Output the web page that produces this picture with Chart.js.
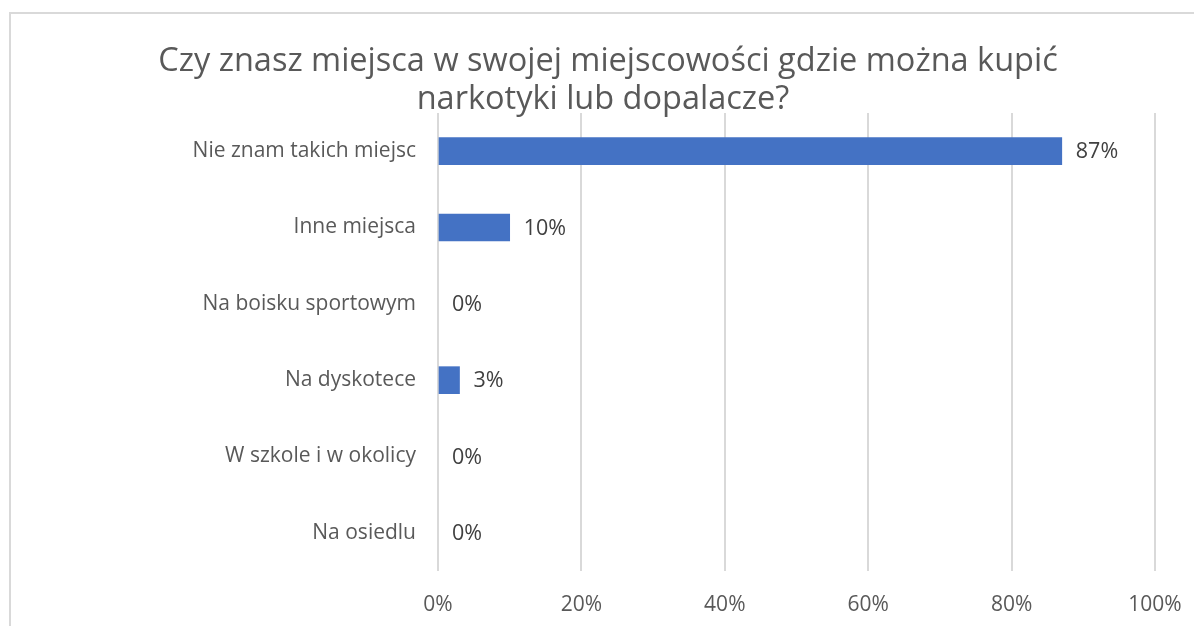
<!DOCTYPE html>
<html>
<head>
<meta charset="utf-8">
<script src="https://cdn.jsdelivr.net/npm/chart.js@4/dist/chart.umd.min.js"></script>
<style>
  html, body { margin: 0; padding: 0; background: #fff; }
  #wrap { position: relative; width: 1194px; height: 626px; overflow: hidden; }
  #frame { position: absolute; left: 9px; top: 12px; width: 1300px; height: 700px;
           border-left: 2px solid #d9d9d9; border-top: 2px solid #d9d9d9; pointer-events: none; }
  canvas { position: absolute; left: 0; top: 0; }
</style>
</head>
<body>
<div id="wrap">
  <canvas id="chart" width="1194" height="626"></canvas>
  <div id="frame"></div>
</div>
<script>
// Survey answers and their shares (percent)
const titleLines = ['Czy znasz miejsca w swojej miejscowości gdzie można kupić', 'narkotyki lub dopalacze?'];
const categories = ['Nie znam takich miejsc', 'Inne miejsca', 'Na boisku sportowym', 'Na dyskotece', 'W szkole i w okolicy', 'Na osiedlu'];
const values = [87, 10, 0, 3, 0, 0];
const xTicks = [0, 20, 40, 60, 80, 100];

const FONT = '"Open Sans", "Noto Sans", sans-serif';

// two-line title drawn on top of the plot
const titlePlugin = {
    id: 'titleLines',
    afterDraw(chart) {
        const ctx = chart.ctx;
        ctx.save();
        ctx.font = '32.5px ' + FONT;
        ctx.fillStyle = '#595959';
        ctx.textAlign = 'center';
        ctx.textBaseline = 'alphabetic';
        ctx.fillText(titleLines[0], 608, 71);
        ctx.fillText(titleLines[1], 603, 109);
        ctx.restore();
    }
};

// value labels after each bar end
const valueLabels = {
    id: 'valueLabels',
    afterDatasetsDraw(chart) {
        const ctx = chart.ctx;
        const meta = chart.getDatasetMeta(0);
        ctx.save();
        ctx.font = '21.5px ' + FONT;
        ctx.fillStyle = '#404040';
        ctx.textAlign = 'left';
        ctx.textBaseline = 'middle';
        meta.data.forEach((bar, i) => {
            ctx.fillText(values[i] + '%', bar.x + 14, bar.y + 1);
        });
        ctx.restore();
    }
};

new Chart(document.getElementById('chart').getContext('2d'), {
    type: 'bar',
    data: {
        labels: categories,
        datasets: [{
            data: values,
            backgroundColor: values.map(v => v > 0 ? '#4472c4' : 'rgba(0,0,0,0)'),
            borderWidth: 0,
            barThickness: 27
        }]
    },
    options: {
        indexAxis: 'y',
        responsive: false,
        animation: false,
        layout: { padding: { top: 113, right: 39, left: 0, bottom: 0 } },
        plugins: {
            legend: { display: false },
            title: { display: false },
            tooltip: { enabled: false }
        },
        scales: {
            x: {
                min: 0,
                max: 100,
                afterBuildTicks: scale => { scale.ticks = xTicks.map(v => ({ value: v })); },
                afterFit: scale => {
                    scale.height = 55;
                    scale.paddingLeft = 0;
                    scale.paddingRight = 0;
                },
                grid: { color: '#d9d9d9', lineWidth: 2, drawTicks: false },
                border: { display: false },
                ticks: {
                    padding: 21,
                    color: '#595959',
                    font: { family: FONT, size: 21 },
                    maxRotation: 0,
                    callback: v => v + '%'
                }
            },
            y: {
                afterFit: scale => { scale.width = 438; },
                grid: { display: false, drawTicks: false },
                border: { display: false },
                ticks: {
                    padding: 22,
                    color: '#595959',
                    font: { family: FONT, size: 21 }
                }
            }
        }
    },
    plugins: [titlePlugin, valueLabels]
});
</script>
</body>
</html>
